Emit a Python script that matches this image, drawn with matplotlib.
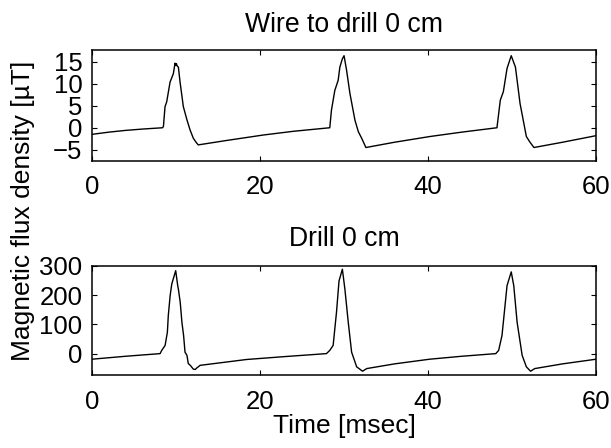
import matplotlib
matplotlib.use("Agg")
import matplotlib.pyplot as plt

plt.rcParams['font.family'] = ['Liberation Sans', 'DejaVu Sans']
plt.rcParams['font.size'] = 18.5

# wire to drill, 0 cm  (time in ms, field in uT)
wire_t = [0.0, 2.0, 4.0, 6.0, 8.4, 8.5, 8.69, 8.89, 9.29, 9.68, 9.88, 9.96, 10.05, 10.12, 10.28,
          10.48, 10.87, 11.3, 11.67, 12.06, 12.46, 12.65, 16.0, 20.4, 24.0, 28.3,
          28.5, 28.9, 29.3, 29.5, 29.8, 30.0, 30.3, 30.7, 31.3, 31.7, 32.1, 32.6,
          36.0, 40.2, 44.0, 48.2, 48.6, 48.96, 49.4, 49.9, 50.4, 50.95, 51.7, 52.1, 52.6,
          56.0, 60.0]
wire_b = [-1.5, -1.0, -0.6, -0.3, 0.0, 0.3, 4.8, 5.9, 10.4, 12.3, 14.7, 14.2, 14.6, 14.1, 13.8,
          10.4, 4.8, 1.8, -0.5, -2.4, -3.5, -3.9, -2.9, -1.65, -0.8, 0.0,
          4.0, 8.5, 10.8, 13.8, 15.7, 16.4, 13.1, 7.8, 1.7, -0.9, -2.4, -4.5,
          -3.3, -2.0, -1.0, 0.0, 6.3, 8.2, 13.5, 16.4, 13.8, 5.5, -2.0, -3.2, -4.5,
          -3.3, -1.8]

# drill, 0 cm
drill_t = [0.0, 4.0, 8.1, 8.3, 8.7, 8.97, 9.08, 9.3, 9.49, 9.6, 9.96, 10.2, 10.28, 10.5, 10.7,
           10.9, 11.07, 11.3, 11.46, 11.7, 12.06, 12.3, 12.46, 12.65, 12.86, 18.4, 23.0, 27.9,
           28.3, 28.7, 29.1, 29.4, 29.8, 30.1, 30.5, 30.9, 31.5, 32.2, 32.7, 36.0, 40.2, 44.0, 48.06,
           48.4, 48.8, 49.4, 49.9, 50.2, 50.6, 51.2, 51.7, 52.2, 52.7, 56.0, 60.0]
drill_b = [-19, -9, 0, 11, 28, 73, 130, 198, 237, 248, 283, 232, 220, 175, 107,
           62, 5, -6, -34, -40, -53, -54, -49, -45, -40, -20, -10, 0,
           11, 28, 141, 248, 288, 220, 107, 5, -45, -60, -51, -35, -19, -9, 0,
           11, 62, 232, 279, 232, 107, -6, -45, -60, -51, -35, -19]

fig = plt.figure(figsize=(6.11, 4.48), dpi=100)
ax1 = fig.add_axes([0.1506, 0.6413, 0.825, 0.2471])
ax2 = fig.add_axes([0.1506, 0.1629, 0.825, 0.2440])

for ax in (ax1, ax2):
    ax.tick_params(direction='in', length=3.6, width=0.8, top=True, right=True)
    ax.tick_params(axis='x', pad=10.5)
    ax.tick_params(axis='y', pad=7)
    for s in ax.spines.values():
        s.set_linewidth(1.1)
    ax.set_xlim(0, 60)
    ax.set_xticks([0, 20, 40, 60])

ax1.plot(wire_t, wire_b, color='black', linewidth=1.0)
ax1.set_ylim(-7.5, 17.7)
ax1.set_yticks([-5, 0, 5, 10, 15])
ax1.set_title('Wire to drill 0 cm', fontsize=19.2, pad=13)

ax2.plot(drill_t, drill_b, color='black', linewidth=1.0)
ax2.set_ylim(-73, 298)
ax2.set_yticks([0, 100, 200, 300])
ax2.set_title('Drill 0 cm', fontsize=19.2, pad=14)
ax2.set_xlabel('Time [msec]', fontsize=19, labelpad=0.5)

fig.text(0.037, 0.529, 'Magnetic flux density [µT]', fontsize=19, rotation=90,
         ha='center', va='center')

fig.savefig('out.png', dpi=100)
